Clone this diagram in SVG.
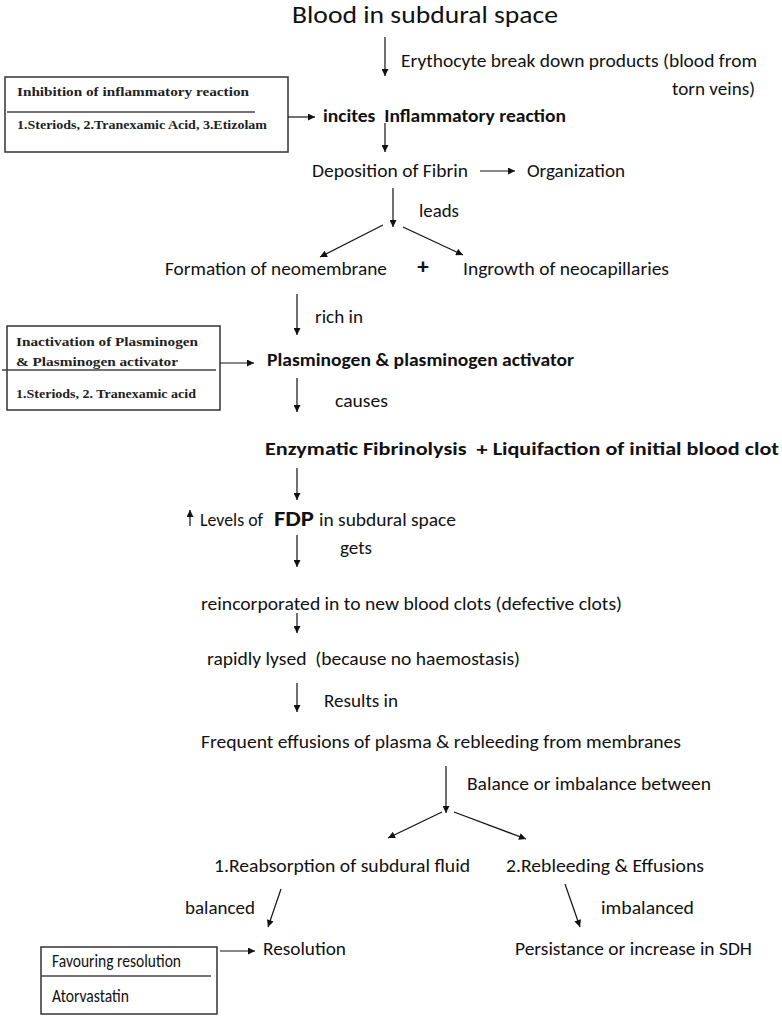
<svg xmlns="http://www.w3.org/2000/svg" width="782" height="1016" viewBox="0 0 782 1016">
<defs>
<style>
text{font-family:Carlito,"Liberation Sans",Arial,sans-serif;fill:#111;}
.b{font-size:18.5px;}
.bd{font-size:18px;font-weight:bold;}
.t{font-size:24px;}
.s{font-family:"Liberation Serif","Times New Roman",serif;font-weight:bold;fill:#222;}
.box{fill:#fff;stroke:#333;stroke-width:1.5;}
.div{stroke:#444;stroke-width:1.3;}
.c line{stroke:#111;stroke-width:1.2;marker-end:url(#ah);}
</style>
<marker id="ah" viewBox="0 0 10 10" refX="10" refY="5" markerWidth="8" markerHeight="7" markerUnits="userSpaceOnUse" orient="auto">
<path d="M0,0 L10,5 L0,10 z" fill="#111"/>
</marker>
</defs>
<rect width="782" height="1016" fill="#fff"/>

<g id="n-blood"><text class="t" x="292" y="23" textLength="266" lengthAdjust="spacingAndGlyphs">Blood in subdural space</text></g>
<g id="l-erythocyte"><text class="b" x="401" y="67" textLength="356" lengthAdjust="spacingAndGlyphs">Erythocyte break down products (blood from</text>
<text class="b" x="672" y="95" textLength="83" lengthAdjust="spacingAndGlyphs">torn veins)</text></g>

<g id="box-inhibition">
<rect class="box" x="5" y="77" width="283" height="75"/>
<text class="s" font-size="13.5" x="17" y="96" textLength="232" lengthAdjust="spacingAndGlyphs">Inhibition of inflammatory reaction</text>
<line class="div" x1="7" y1="112" x2="255" y2="112"/>
<text class="s" font-size="13.5" x="17" y="129" textLength="250" lengthAdjust="spacingAndGlyphs">1.Steriods, 2.Tranexamic Acid, 3.Etizolam</text>
</g>

<g id="n-inflammatory"><text class="bd" x="323" y="122" xml:space="preserve" textLength="243" lengthAdjust="spacingAndGlyphs">incites  Inflammatory reaction</text></g>
<g id="n-fibrin"><text class="b" x="312" y="177" textLength="156" lengthAdjust="spacingAndGlyphs">Deposition of Fibrin</text></g>
<g id="n-organization"><text class="b" x="527" y="177" textLength="98" lengthAdjust="spacingAndGlyphs">Organization</text></g>
<g id="l-leads"><text class="b" x="419" y="217" textLength="40" lengthAdjust="spacingAndGlyphs">leads</text></g>
<g id="n-neomembrane"><text class="b" x="165" y="275" textLength="222" lengthAdjust="spacingAndGlyphs">Formation of neomembrane</text></g>
<g id="n-plus"><text x="423" y="274" font-size="23" font-weight="bold" text-anchor="middle">+</text></g>
<g id="n-neocapillaries"><text class="b" x="463" y="275" textLength="206" lengthAdjust="spacingAndGlyphs">Ingrowth of neocapillaries</text></g>
<g id="l-richin"><text class="b" x="315" y="323" textLength="48" lengthAdjust="spacingAndGlyphs">rich in</text></g>

<g id="box-inactivation">
<rect class="box" x="7" y="326" width="213" height="84"/>
<text class="s" font-size="13.5" x="16" y="346" textLength="182" lengthAdjust="spacingAndGlyphs">Inactivation of Plasminogen</text>
<text class="s" font-size="13.5" x="16" y="366" textLength="162" lengthAdjust="spacingAndGlyphs">&amp; Plasminogen activator</text>
<line class="div" x1="2" y1="370" x2="216" y2="370"/>
<text class="s" font-size="13.5" x="16" y="398" textLength="180" lengthAdjust="spacingAndGlyphs">1.Steriods, 2. Tranexamic acid</text>
</g>

<g id="n-plasminogen"><text class="bd" x="267" y="366" textLength="307" lengthAdjust="spacingAndGlyphs">Plasminogen &amp; plasminogen activator</text></g>
<g id="l-causes"><text class="b" x="335" y="407" textLength="53" lengthAdjust="spacingAndGlyphs">causes</text></g>
<g id="n-fibrinolysis"><text class="bd" x="265" y="455" xml:space="preserve" textLength="514" lengthAdjust="spacingAndGlyphs">Enzymatic Fibrinolysis  + Liquifaction of initial blood clot</text></g>
<g id="n-fdp"><text class="b" y="526"><tspan x="200" textLength="63" lengthAdjust="spacingAndGlyphs">Levels of</tspan><tspan x="274" font-weight="bold" font-size="22" textLength="40" lengthAdjust="spacingAndGlyphs">FDP</tspan><tspan x="319" textLength="137" lengthAdjust="spacingAndGlyphs">in subdural space</tspan></text></g>
<g id="l-gets"><text class="b" x="340" y="554" textLength="32" lengthAdjust="spacingAndGlyphs">gets</text></g>
<g id="n-reincorporated"><text class="b" x="201" y="610" textLength="421" lengthAdjust="spacingAndGlyphs">reincorporated in to new blood clots (defective clots)</text></g>
<g id="n-lysed"><text class="b" x="207" y="665" xml:space="preserve" textLength="313" lengthAdjust="spacingAndGlyphs">rapidly lysed  (because no haemostasis)</text></g>
<g id="l-results"><text class="b" x="324" y="707" textLength="74" lengthAdjust="spacingAndGlyphs">Results in</text></g>
<g id="n-effusions"><text class="b" x="201" y="748" textLength="480" lengthAdjust="spacingAndGlyphs">Frequent effusions of plasma &amp; rebleeding from membranes</text></g>
<g id="l-balance"><text class="b" x="467" y="790" textLength="244" lengthAdjust="spacingAndGlyphs">Balance or imbalance between</text></g>
<g id="n-reabsorption"><text class="b" x="214" y="872" textLength="256" lengthAdjust="spacingAndGlyphs">1.Reabsorption of subdural fluid</text></g>
<g id="n-rebleeding"><text class="b" x="506" y="872" textLength="198" lengthAdjust="spacingAndGlyphs">2.Rebleeding &amp; Effusions</text></g>
<g id="l-balanced"><text class="b" x="185" y="914" textLength="70" lengthAdjust="spacingAndGlyphs">balanced</text></g>
<g id="l-imbalanced"><text class="b" x="601" y="914" textLength="93" lengthAdjust="spacingAndGlyphs">imbalanced</text></g>
<g id="n-resolution"><text class="b" x="263" y="955" textLength="83" lengthAdjust="spacingAndGlyphs">Resolution</text></g>
<g id="n-persistance"><text class="b" x="515" y="955" textLength="237" lengthAdjust="spacingAndGlyphs">Persistance or increase in SDH</text></g>

<g id="box-favouring">
<rect class="box" x="41" y="947" width="176" height="67"/>
<text class="b" font-size="14.5" x="52" y="967" textLength="129" lengthAdjust="spacingAndGlyphs">Favouring resolution</text>
<line class="div" x1="41" y1="976" x2="211" y2="976"/>
<text class="b" font-size="14.5" x="52" y="1002" textLength="77" lengthAdjust="spacingAndGlyphs">Atorvastatin</text>
</g>

<g id="connectors" class="c">
<line x1="385" y1="37" x2="385" y2="76"/>
<line x1="288" y1="117" x2="315" y2="117"/>
<line x1="385" y1="123" x2="385" y2="152"/>
<line x1="480" y1="171" x2="515" y2="171"/>
<line x1="393" y1="188" x2="393" y2="227"/>
<line x1="383" y1="225" x2="320" y2="257"/>
<line x1="403" y1="227" x2="463" y2="255"/>
<line x1="297" y1="294" x2="297" y2="335"/>
<line x1="220" y1="363" x2="254" y2="363"/>
<line x1="297" y1="378" x2="297" y2="412"/>
<line x1="297" y1="468" x2="297" y2="500"/>
<line x1="190" y1="526" x2="190" y2="510"/>
<line x1="297" y1="535" x2="297" y2="567"/>
<line x1="297" y1="613" x2="297" y2="633"/>
<line x1="297" y1="683" x2="297" y2="712"/>
<line x1="446" y1="766" x2="446" y2="813"/>
<line x1="442" y1="812" x2="388" y2="838"/>
<line x1="454" y1="812" x2="526" y2="839"/>
<line x1="281" y1="889" x2="268" y2="927"/>
<line x1="565" y1="884" x2="580" y2="927"/>
<line x1="220" y1="951" x2="255" y2="951"/>
</g>
</svg>
